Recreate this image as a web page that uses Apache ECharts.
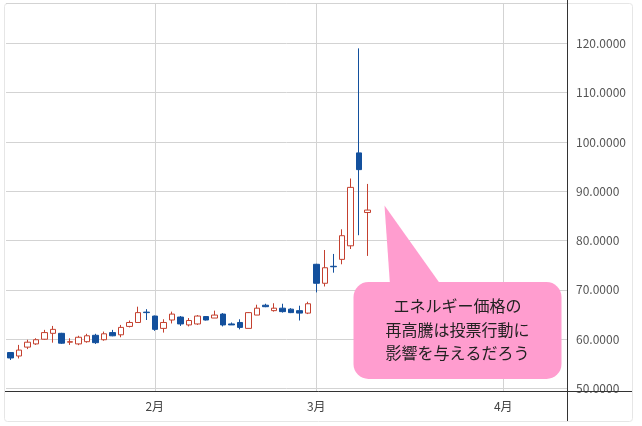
<!DOCTYPE html>
<html><head><meta charset="utf-8">
<script src="https://cdn.jsdelivr.net/npm/echarts@6/dist/echarts.min.js"></script>
<style>html,body{margin:0;padding:0;background:#fff}#c{width:642px;height:426px}</style>
</head><body><div id="c"></div>
<script>
// Trading days (category axis); data ends 2022-03-09, axis continues into April
const dates = [
 '2022-01-06','2022-01-07','2022-01-10','2022-01-11','2022-01-12','2022-01-13','2022-01-14',
 '2022-01-18','2022-01-19','2022-01-20','2022-01-21','2022-01-24','2022-01-25','2022-01-26',
 '2022-01-27','2022-01-28','2022-01-31',
 '2022-02-01','2022-02-02','2022-02-03','2022-02-04','2022-02-07','2022-02-08','2022-02-09',
 '2022-02-10','2022-02-11','2022-02-14','2022-02-15','2022-02-16','2022-02-17','2022-02-18',
 '2022-02-22','2022-02-23','2022-02-24','2022-02-25','2022-02-28',
 '2022-03-01','2022-03-02','2022-03-03','2022-03-04','2022-03-07','2022-03-08','2022-03-09',
 '2022-03-10','2022-03-11','2022-03-14','2022-03-15','2022-03-16','2022-03-17','2022-03-18',
 '2022-03-22','2022-03-23','2022-03-24','2022-03-25','2022-03-28','2022-03-29','2022-03-30','2022-03-31',
 '2022-04-01','2022-04-04','2022-04-05','2022-04-06','2022-04-07','2022-04-08','2022-04-11','2022-04-12'
];
const opens  = [57.3,56.6,58.4,59.05,60.0,61.2,61.2,59.4,59.05,59.5,60.8,59.9,61.35,60.9,62.6,63.4,65.5,
                64.7,62.2,63.9,64.5,62.9,63.1,64.6,64.3,65.1,63.1,63.4,62.2,64.9,66.9,65.8,66.3,66.1,65.8,65.3,
                75.2,71.35,74.8,76.2,78.95,97.8,85.7];
const closes = [56.2,57.8,59.4,59.9,61.35,62.0,59.2,59.5,60.4,60.7,59.3,61.1,60.7,62.4,63.4,65.4,65.4,
                62.0,63.4,65.1,63.1,63.8,64.7,63.9,64.9,62.9,62.9,62.4,65.4,66.3,66.6,66.3,65.6,65.4,65.3,67.2,
                71.35,74.5,74.7,81.0,90.8,94.4,86.2];
const lows   = [55.8,56.1,58.0,58.85,59.9,59.3,59.05,58.85,58.8,59.3,59.05,59.7,60.6,60.4,62.4,63.4,63.9,
                61.7,61.35,63.2,62.7,62.6,62.9,63.8,64.3,62.6,62.9,62.0,62.2,64.9,66.5,65.6,65.4,65.3,63.8,65.1,
                69.5,70.7,73.5,75.2,78.3,81.1,76.9];
const highs  = [57.4,58.85,59.9,60.2,61.9,62.7,61.3,60.2,60.7,61.1,61.1,61.55,61.9,62.9,63.8,66.6,66.1,
                64.8,64.05,65.6,64.7,64.3,64.9,64.7,65.8,65.3,63.4,64.05,65.5,67.0,67.2,67.3,67.2,66.3,66.8,67.6,
                75.3,78.1,77.3,82.3,92.6,119.0,91.5];
const noteLines = ['エネルギー価格の','再高騰は投票行動に','影響を与えるだろう'];

const ohlc = opens.map((o, i) => [o, closes[i], lows[i], highs[i]]);
const isMonthStart = (i) => i > 0 && dates[i].slice(5, 7) !== dates[i - 1].slice(5, 7);
const FONT = '"Noto Sans CJK JP", "Noto Sans", sans-serif';
const pink = '#ff9dcf';

const chart = echarts.init(document.getElementById('c'));
chart.setOption({
  animation: false,
  backgroundColor: '#fff',
  grid: { left: 6, right: 75, top: 3, bottom: 35, containLabel: false },
  xAxis: {
    type: 'category',
    data: dates,
    boundaryGap: true,
    axisLine: { show: false },
    axisTick: { show: false },
    axisLabel: {
      interval: (i) => isMonthStart(i),
      formatter: (v) => parseInt(v.slice(5, 7), 10) + '月',
      color: '#444', fontSize: 12, fontFamily: FONT, margin: 9
    },
    splitLine: {
      show: true, interval: (i) => isMonthStart(i), alignWithLabel: true,
      lineStyle: { color: '#d3d3d3', width: 1 }
    }
  },
  yAxis: {
    type: 'value',
    position: 'right',
    min: 49.5, max: 128.2, splitNumber: 8,
    scale: true,
    axisLine: { show: false },
    axisTick: { show: false },
    axisLabel: {
      formatter: (v) => (Math.abs(v % 10) < 1e-6 ? v.toFixed(4) : ''),
      color: '#555', fontSize: 12, fontFamily: FONT, margin: 9, padding: [4, 0, 0, 0]
    },
    splitLine: { lineStyle: { color: '#d3d3d3', width: 1 } }
  },
  series: [{
    type: 'candlestick',
    data: ohlc,
    barWidth: 6,
    itemStyle: {
      color: '#ffffff', color0: '#13509d',
      borderColor: '#c4402f', borderColor0: '#13509d', borderWidth: 1
    }
  }],
  graphic: [
    { type: 'rect', silent: true, z: -1,
      shape: { x: 4.5, y: 3.5, width: 628, height: 418, r: 3 },
      style: { fill: 'none', stroke: '#e6e6e6', lineWidth: 1 } },
    { type: 'line', silent: true, z: 10,
      shape: { x1: 5, y1: 391.5, x2: 632, y2: 391.5 },
      style: { stroke: '#333', lineWidth: 1 } },
    { type: 'line', silent: true, z: 10,
      shape: { x1: 567.5, y1: 0, x2: 567.5, y2: 421 },
      style: { stroke: '#333', lineWidth: 1 } },
    { type: 'polygon', silent: true, z: 20,
      shape: { points: [[384.5, 205.5], [390, 285], [441, 285]] },
      style: { fill: pink } },
    { type: 'rect', silent: true, z: 20,
      shape: { x: 353.5, y: 282, width: 208, height: 97, r: 15 },
      style: { fill: pink } },
    { type: 'text', silent: true, z: 21,
      style: { text: noteLines.join('\n'), x: 457.5, y: 329.5, align: 'center', verticalAlign: 'middle',
               font: '16px ' + FONT, lineHeight: 23.5, fill: '#222' } }
  ]
});
</script>
</body></html>
